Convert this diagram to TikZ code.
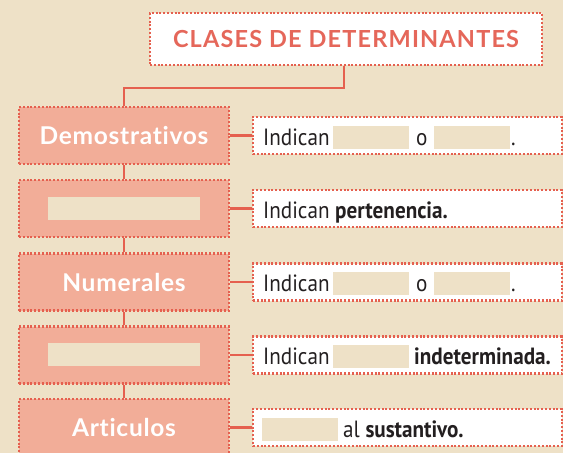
\documentclass[tikz,border=0pt]{standalone}
\usepackage{fontspec}
\setmainfont[FakeStretch=0.9]{PT Sans}
\newfontfamily\headfont[LetterSpace=5,Ligatures=NoCommon]{Lato}
\newfontfamily\catfont[LetterSpace=3,Ligatures=NoCommon]{Lato}
\definecolor{bg}{HTML}{EEE1C7}
\definecolor{salmon}{HTML}{F2AD98}
\definecolor{redline}{HTML}{E5604F}
\definecolor{titlered}{HTML}{E5675A}
\definecolor{ink}{HTML}{231F20}
\tikzset{
  dotborder/.style={draw=redline, line width=2.1pt, dash pattern=on 2pt off 1.8pt},
  titlebox/.style={dotborder, fill=white, minimum width=392pt, minimum height=52pt, inner sep=0pt},
  catbox/.style={dotborder, fill=salmon, minimum width=210pt, minimum height=57pt, inner sep=0pt,
    text=white, font=\catfont\bfseries\fontsize{24.5}{28}\selectfont},
  descbox/.style={dotborder, fill=white, minimum width=309pt, minimum height=37pt, inner sep=0pt},
  conn/.style={draw=redline, line width=2.6pt},
  blank/.style={fill=bg},
  desc/.style={anchor=base west, inner sep=0pt, text=ink, font=\fontsize{23.5}{26}\selectfont},
}
\begin{document}
\begin{tikzpicture}[x=1pt,y=-1pt]
\useasboundingbox (0,0) rectangle (563,453);
\clip (0,0) rectangle (563,453);
\fill[bg] (0,0) rectangle (563,453);
\coordinate (t1) at (344,88);
\coordinate (t2) at (124,88);
\node[titlebox] (title) at (346,39) {};
\node[catbox] (c1) at (124,135.5) {};
\node[catbox] (c2) at (124,208.5) {};
\node[catbox] (c3) at (124,282) {};
\node[catbox] (c4) at (124,355) {};
\node[catbox] (c5) at (124,427.5) {};
\node[descbox] (d1) at (407.5,135.5) {};
\node[descbox] (d2) at (407.5,208.5) {};
\node[descbox] (d3) at (407.5,282) {};
\node[descbox] (d4) at (407.5,355) {};
\node[descbox] (d5) at (407.5,427.5) {};
\draw[conn] (title.south -| t1) -- (t1) -- (t2) -- (c1.north);
\draw[conn] (c1.south) -- (c2.north);
\draw[conn] (c2.south) -- (c3.north);
\draw[conn] (c3.south) -- (c4.north);
\draw[conn] (c4.south) -- (c5.north);
\foreach \i in {1,...,5}{\draw[conn] (c\i.east) -- (d\i.west);}
% boxes drawn again on top of the connectors
\node[titlebox, font=\headfont\bfseries\fontsize{23.5}{26}\selectfont, text=titlered] at (title) {CLASES DE DETERMINANTES};
\node[catbox] at (c1) {Demostrativos};
\node[catbox] at (c2) {};
\node[catbox] at (c3) {Numerales};
\node[catbox] at (c4) {};
\node[catbox] at (c5) {Articulos};
\foreach \i in {1,...,5}{\node[descbox] at (d\i) {};}
% blanks in category boxes
\fill[blank] (48,197) rectangle (200,220);
\fill[blank] (48,343) rectangle (200,366);
% row 1
\node[desc] (r1a) at (263,145) {Indican};
\fill[blank] (333,126) rectangle (409,149);
\node[desc] (r1b) at (416,145) {o};
\fill[blank] (434,126) rectangle (510,149);
\node[desc] (r1c) at (511,145) {.};
% row 2
\node[desc] (r2a) at (263,218) {Indican \textbf{pertenencia.}};
% row 3
\node[desc] (r3a) at (263,291.5) {Indican};
\fill[blank] (333,272) rectangle (409,295);
\node[desc] (r3b) at (416,291.5) {o};
\fill[blank] (434,272) rectangle (510,295);
\node[desc] (r3c) at (511,291.5) {.};
% row 4
\node[desc] (r4a) at (263,364.5) {Indican};
\fill[blank] (333,345) rectangle (409,368);
\node[desc] (r4b) at (414,364.5) {\textbf{indeterminada.}};
% row 5
\fill[blank] (262,418) rectangle (338,441);
\node[desc] (r5a) at (343,437) {al \textbf{sustantivo.}};
\end{tikzpicture}
\end{document}
